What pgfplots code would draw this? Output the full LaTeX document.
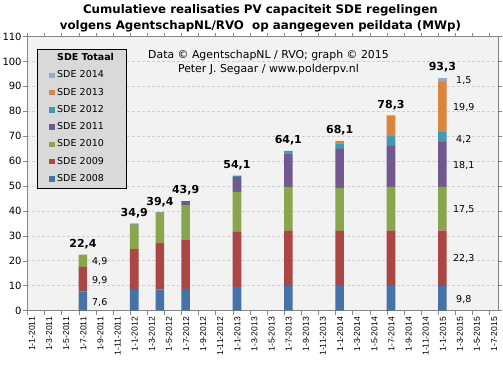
\documentclass[border=0pt]{standalone}
\usepackage{fontspec}
\setmainfont{DejaVu Sans}
\newfontfamily\xlf{Liberation Sans}
\usepackage{pgfplots}
\usepackage{pgfplotstable}
\pgfplotsset{compat=1.18}
\definecolor{c08}{HTML}{4572A7}
\definecolor{c09}{HTML}{AA4643}
\definecolor{c10}{HTML}{89A54E}
\definecolor{c11}{HTML}{71588F}
\definecolor{c12}{HTML}{4198AF}
\definecolor{c13}{HTML}{DB843D}
\definecolor{c14}{HTML}{93A9CF}
\definecolor{bgc}{HTML}{F2F2F2}
\definecolor{legc}{HTML}{D9D9D9}
\definecolor{gridc}{HTML}{D0D0D0}
\definecolor{axc}{HTML}{868686}
\pgfplotstableread{
x    y08  y09  y10  y11  y12  y13  y14
6.5  7.6  9.9  4.9  0    0    0    0
12.5 8.2  16.4 9.9  0.4  0    0    0
15.5 8.4  18.7 11.8 0.5  0    0    0
18.5 8.6  19.7 13.8 1.8  0    0    0
24.5 9.4  22.2 16.0 6.0  0.5  0    0
30.5 9.8  22.2 17.6 13.4 1.1  0    0
36.5 9.8  22.2 17.2 15.7 2.2  1.0  0
42.5 9.8  22.2 17.6 16.5 4.0  8.2  0
48.5 9.8  22.3 17.5 18.1 4.2  19.9 1.5
}\data
\newcommand{\fs}{\fontsize{9.5}{11}\selectfont}
\begin{document}
\begin{tikzpicture}
\path[use as bounding box] (-27.3pt,-57.5pt) rectangle (475.7pt,310.5pt);
\begin{axis}[
  scale only axis, width=470.7pt, height=274pt,
  xmin=0, xmax=55, ymin=0, ymax=110,
  ybar stacked, bar width=1,
  clip mode=individual,
  axis background/.style={fill=bgc},
  axis line style={draw=axc},
  tick align=outside, major tick length=4pt,
  tick style={draw=axc},
  /pgf/number format/assume math mode=true,
  ytick={0,10,...,110},
  yticklabel style={font=\fontsize{10}{12}\selectfont, inner xsep=1.5pt},
  ymajorgrids, grid style={draw=gridc, dash pattern=on 3pt off 2pt},
  xtick={0,2,...,54}, xticklabel={\relax},
  extra x ticks={0.55,2.55,...,54.55},
  extra x tick labels={1-1-2011,1-3-2011,1-5-2011,1-7-2011,1-9-2011,1-11-2011,
    1-1-2012,1-3-2012,1-5-2012,1-7-2012,1-9-2012,1-11-2012,
    1-1-2013,1-3-2013,1-5-2013,1-7-2013,1-9-2013,1-11-2013,
    1-1-2014,1-3-2014,1-5-2014,1-7-2014,1-9-2014,1-11-2014,
    1-1-2015,1-3-2015,1-5-2015,1-7-2015},
  extra x tick style={major tick length=0pt, grid=none,
    xticklabel style={rotate=90, anchor=east, font=\xlf\fontsize{8.6}{10}\selectfont, inner sep=0pt}},
  xticklabel shift=6.5pt,
  legend image code/.code={\path (-12pt,0pt); \fill[#1] (0pt,-2.7pt) rectangle (5.4pt,2.7pt);},
  reverse legend,
  legend style={at={(0.0206,0.954)}, anchor=north west, fill=legc, draw=black,
    inner sep=0pt, column sep=2.6pt, font=\fs,
    nodes={text width=69pt, align=left, inner xsep=0pt, text height=7pt, text depth=2pt, inner ysep=4.15pt}},
  legend cell align=left,
]
\addplot[fill=c08, draw=none] table[x=x,y=y08]{\data};
\addlegendentry{SDE 2008}
\addplot[fill=c09, draw=none] table[x=x,y=y09]{\data};
\addlegendentry{SDE 2009}
\addplot[fill=c10, draw=none] table[x=x,y=y10]{\data};
\addlegendentry{SDE 2010}
\addplot[fill=c11, draw=none] table[x=x,y=y11]{\data};
\addlegendentry{SDE 2011}
\addplot[fill=c12, draw=none] table[x=x,y=y12]{\data};
\addlegendentry{SDE 2012}
\addplot[fill=c13, draw=none] table[x=x,y=y13]{\data};
\addlegendentry{SDE 2013}
\addplot[fill=c14, draw=none] table[x=x,y=y14]{\data};
\addlegendentry{SDE 2014}
\addlegendimage{empty legend}
\addlegendentry{\textbf{SDE Totaal}}

% totals
\foreach \xx/\yy/\tt in {6.5/22.4/{22,4},12.5/34.9/{34,9},15.5/39.4/{39,4},18.5/43.9/{43,9},24.5/54.1/{54,1},30.5/64.1/{64,1},36.5/68.1/{68,1},42.5/78.3/{78,3},48.5/93.3/{93,3}}{
  \edef\temp{\noexpand\node[anchor=base, yshift=7.2pt, font=\noexpand\fontsize{11}{13}\noexpand\selectfont\noexpand\bfseries, inner sep=0pt] at (axis cs:\xx,\yy) {\tt};}
  \temp
}
% segment labels first bar
\node[anchor=west, font=\fs, inner sep=0pt] at (axis cs:7.56,19.6) {4,9};
\node[anchor=west, font=\fs, inner sep=0pt] at (axis cs:7.56,12.2) {9,9};
\node[anchor=west, font=\fs, inner sep=0pt] at (axis cs:7.56,3.1) {7,6};
% segment labels last bar
\node[font=\fs, inner sep=0pt] at (axis cs:51.0,92.2) {1,5};
\node[font=\fs, inner sep=0pt] at (axis cs:51.0,81.4) {19,9};
\node[font=\fs, inner sep=0pt] at (axis cs:51.0,68.5) {4,2};
\node[font=\fs, inner sep=0pt] at (axis cs:51.0,58.1) {18,1};
\node[font=\fs, inner sep=0pt] at (axis cs:51.0,40.6) {17,5};
\node[font=\fs, inner sep=0pt] at (axis cs:51.0,20.7) {22,3};
\node[font=\fs, inner sep=0pt] at (axis cs:51.0,4.6) {9,8};
% annotation
\node[font=\fontsize{10.9}{13}\selectfont, inner sep=0pt, align=center] at (axis cs:28.18,99.4) {Data © AgentschapNL / RVO; graph © 2015\\[1pt]Peter J. Segaar / www.polderpv.nl};
% title
\node[anchor=base, yshift=23.2pt, inner sep=0pt, font=\fontsize{11.8}{14}\selectfont\bfseries] at (axis cs:27.24,110) {Cumulatieve realisaties PV capaciteit SDE regelingen};
\node[anchor=base, yshift=7pt, inner sep=0pt, font=\fontsize{11.8}{14}\selectfont\bfseries] at (axis cs:27.24,110) {volgens AgentschapNL/RVO\ \ op aangegeven peildata (MWp)};
\end{axis}
\end{tikzpicture}
\end{document}
